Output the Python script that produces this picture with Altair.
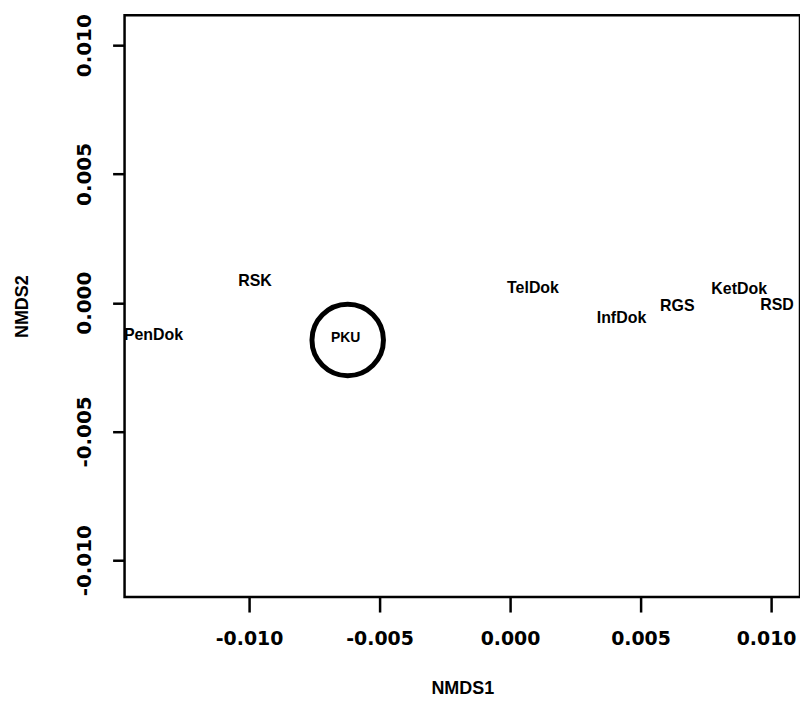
import altair as alt
import pandas as pd

# Site labels and their NMDS scores
labels = ["PenDok", "RSK", "PKU", "TelDok", "InfDok", "RGS", "KetDok", "RSD"]
nmds1 = [-0.01366, -0.00977, -0.00630, 0.00088, 0.00427, 0.00641, 0.00878, 0.01023]
nmds2 = [-0.00126, 0.00083, -0.00137, 0.00056, -0.00060, -0.00014, 0.00052, -0.00010]
label_size = [16, 16, 14, 16, 16, 16, 16, 16]

# Highlight circle around PKU
circle_x = [-0.00622]
circle_y = [-0.00145]

x_ticks = [-0.010, -0.005, 0.000, 0.005, 0.010]
y_ticks = [-0.010, -0.005, 0.000, 0.005, 0.010]

x_domain = [-0.01477, 0.01111]
y_domain = [-0.01143, 0.01116]

df = pd.DataFrame({"label": labels, "NMDS1": nmds1, "NMDS2": nmds2, "fs": label_size})
circ = pd.DataFrame({"NMDS1": circle_x, "NMDS2": circle_y})

FONT = "Liberation Sans"
TICKFONT = "DejaVu Sans"
lab_expr = "datum.value < 0 ? '-' + format(abs(datum.value), '.3f') : format(datum.value, '.3f')"

x_enc = alt.X(
    "NMDS1:Q",
    scale=alt.Scale(domain=x_domain, nice=False, zero=False),
    axis=alt.Axis(
        values=x_ticks, labelExpr=lab_expr, title="NMDS1",
        tickSize=15, tickWidth=2.5, labelPadding=18,
        labelFontSize=19, labelFont=TICKFONT, labelFontWeight="bold",
        labelOffset=alt.condition("datum.value > 0.009", alt.value(-5), alt.value(0)),
        labelBaseline="top", grid=False, domain=False,
        titleFontSize=18, titleFont=FONT, titleFontWeight="bold",
        titleY=92, titleBaseline="middle",
    ),
)
y_enc = alt.Y(
    "NMDS2:Q",
    scale=alt.Scale(domain=y_domain, nice=False, zero=False),
    axis=alt.Axis(
        values=y_ticks, labelExpr=lab_expr, title="NMDS2",
        tickSize=12, tickWidth=2.5, labelPadding=22,
        labelAngle=270, labelAlign="center", labelBaseline="alphabetic",
        labelFontSize=20, labelFont=TICKFONT, labelFontWeight="bold",
        grid=False, domain=False,
        titleFontSize=18, titleFont=FONT, titleFontWeight="bold",
        titleAngle=270, titleX=-102, titleY=292, titleBaseline="middle",
        titleAlign="center",
    ),
)

text = alt.Chart(df).mark_text(
    font=FONT, fontWeight="bold", color="black", clip=True, baseline="middle", align="center"
).encode(
    x=x_enc,
    y=y_enc,
    text="label:N",
    size=alt.Size("fs:Q", scale=None, legend=None),
)

ring = alt.Chart(circ).mark_point(
    shape="circle", filled=False, stroke="black", strokeWidth=5, size=5150, opacity=1
).encode(x="NMDS1:Q", y="NMDS2:Q")

chart = alt.layer(text, ring).properties(
    width=678,
    height=584,
    autosize=alt.AutoSizeParams(type="none"),
    padding={"left": 117, "top": 6, "right": 0, "bottom": 105},
    background="white",
).configure_view(
    stroke="black", strokeWidth=2.5
).configure_axis(
    domain=False, grid=False, tickColor="black", labelColor="black", titleColor="black"
)

chart.save("out.html", embed_options={"renderer": "svg", "actions": False})
